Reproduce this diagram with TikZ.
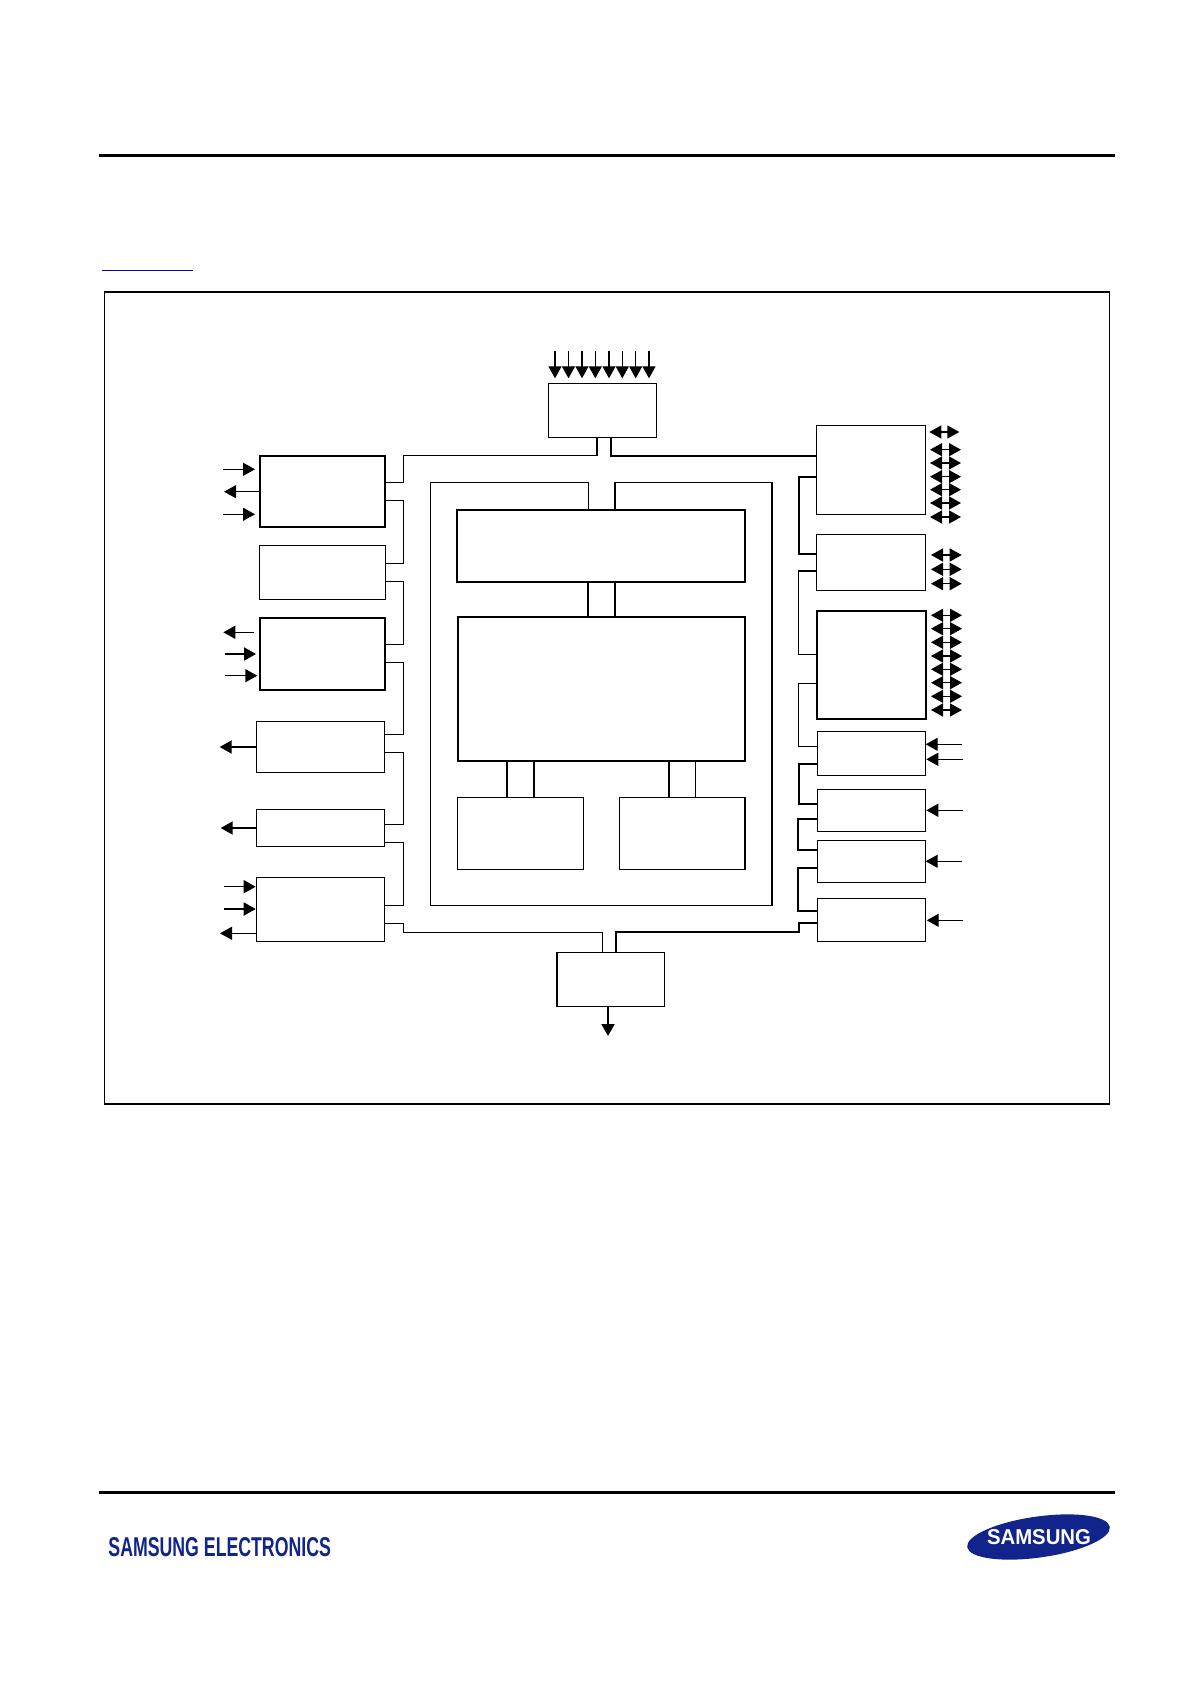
\documentclass[tikz,border=0pt]{standalone}
\usepackage{fontspec}
\usepackage{graphicx}
\setmainfont{Liberation Sans}
\usetikzlibrary{arrows.meta}
\definecolor{samblue}{RGB}{16,36,140}
\definecolor{linkblue}{RGB}{0,0,170}
\tikzset{
  x=0.5pt,y=-0.5pt,
  thinw/.style={line width=0.7pt},
  thickw/.style={line width=1pt},
  blk/.style={draw=black,fill=white,thinw,inner sep=0pt,outer sep=0pt,rectangle},
  bus/.style={thinw,line join=miter,line cap=butt},
  busk/.style={thickw,line join=miter,line cap=butt},
  sigout/.style={thinw,-{Triangle[length=6pt,width=6.5pt]}},
  sigin/.style={thinw,{Triangle[length=6pt,width=6.5pt]}-},
  sigbi/.style={thinw,{Triangle[length=6pt,width=6.5pt]}-{Triangle[length=6pt,width=6.5pt]}},
  rulel/.style={line width=1.5pt},
}
\newcommand{\blk}[6][]{\node[blk,#1,minimum width={(#5-#3)*0.5pt},minimum height={(#6-#4)*0.5pt}] (#2) at ({(#3+#5)/2},{(#4+#6)/2}) {};}
\newcounter{sg}
% \sig[style]{box.anchor}{free x}{y}{gap}
\newcommand{\sig}[5][]{\stepcounter{sg}\coordinate (s\thesg) at (#3,#4);\draw[#1,shorten <={#5*0.5pt}] (#2|-s\thesg) -- (s\thesg);}
% \sigv[style]{box.anchor}{x}{free y}{gap}
\newcommand{\sigv}[5][]{\stepcounter{sg}\coordinate (s\thesg) at (#3,#4);\draw[#1,shorten <={#5*0.5pt}] (#2-|s\thesg) -- (s\thesg);}
\begin{document}
\begin{tikzpicture}
\useasboundingbox (0,0) rectangle (1190,1684);
\fill[white] (0,0) rectangle (1190,1684);
% page furniture
\coordinate (rt1) at (99,155.5); \coordinate (rt2) at (1115,155.5);
\draw[rulel] (rt1) -- (rt2);
\coordinate (rb1) at (99,1492); \coordinate (rb2) at (1115,1492);
\draw[rulel] (rb1) -- (rb2);
\coordinate (ul1) at (102,270.5); \coordinate (ul2) at (193,270.5);
\draw[linkblue,line width=0.6pt] (ul1) -- (ul2);
\node[draw=black,line width=0.6pt,inner sep=0pt,outer sep=0pt,minimum width=502.6pt,minimum height=406pt] (frame) at (607,698) {};
% blocks
\blk[line width=0.6pt]{Top}{548.3}{383.3}{656.7}{437.3}
\blk[thickw]{A1}{259.7}{456}{385.3}{527.3}
\blk{A2}{259.7}{545.7}{385.3}{599.3}
\blk[thickw]{A3}{259.7}{617.7}{385.3}{690}
\blk{A4}{256.7}{721.7}{384.3}{772.7}
\blk{A5}{256.7}{809.3}{384.3}{846.3}
\blk{A6}{256.7}{877.7}{384.3}{941.3}
\blk{R1}{816.7}{425.7}{925.3}{514.3}
\blk{R2}{816.7}{534.7}{925.7}{590.7}
\blk[thickw]{R3}{816.7}{611}{926.3}{719}
\blk{R4}{817.3}{731.3}{925.3}{775.3}
\blk{R5}{817.3}{789.3}{925.3}{831.3}
\blk{R6}{817.3}{840.3}{925.3}{882.3}
\blk{R7}{817.3}{898.7}{925.3}{941.3}
\blk{Bot}{557}{952.3}{664.3}{1006.7}
\blk[thickw]{C1}{457.3}{509.7}{745}{581.7}
\blk[thickw]{C2}{458}{617.3}{745.3}{761}
\blk{C3}{457.3}{797.3}{583.3}{869.3}
\blk{C4}{619.3}{797.3}{745}{869.3}
% central frame (open above the first inner block)
\draw[bus] (C1.north-|588.3,0) |- (430.3,482.7) |- (772,905.3) |- (615,482.7) -- (C1.north-|615,0);
% inner connectors
\draw[busk] (C1.south-|588,0) -- (C2.north-|588,0);
\draw[busk] (C1.south-|615,0) -- (C2.north-|615,0);
\draw[busk] (C2.south-|506.7,0) -- (C3.north-|506.7,0);
\draw[busk] (C2.south-|533.7,0) -- (C3.north-|533.7,0);
\draw[busk] (C2.south-|669,0) -- (C4.north-|669,0);
\draw[bus] (C2.south-|695.3,0) -- (C4.north-|695.3,0);
% left bus
\draw[bus] (A1.east|-0,482.3) -| (403.3,455.7) -| (Top.south-|597,0);
\draw[bus] (A1.east|-0,500.3) -| (403.3,563.3) -- (A2.east|-0,563.3);
\draw[bus] (A2.east|-0,581.3) -| (403.3,644.7) -- (A3.east|-0,644.7);
\draw[bus] (A3.east|-0,662.7) -| (403.3,734.3) -- (A4.east|-0,734.3);
\draw[bus] (A4.east|-0,752.3) -| (403.3,824.3) -- (A5.east|-0,824.3);
\draw[bus] (A5.east|-0,842.3) -| (403.3,905.3) -- (A6.east|-0,905.3);
\draw[bus] (A6.east|-0,923.3) -| (403.3,932.3) -| (Bot.north-|602.3,0);
% right bus
\draw[busk] (Top.south-|610.7,0) |- (R1.west|-0,455.7);
\draw[busk] (R1.west|-0,476.7) -| (799,554.3) -- (R2.west|-0,554.3);
\draw[bus] (R2.west|-0,571) -| (798.7,654.7) -- (R3.west|-0,654.7);
\draw[bus] (R3.west|-0,683.7) -| (798.7,746.7) -- (R4.west|-0,746.7);
\draw[busk] (R4.west|-0,763.7) -| (798.7,804) -- (R5.west|-0,804);
\draw[busk] (R5.west|-0,819.3) -| (798.3,850) -- (R6.west|-0,850);
\draw[busk] (R6.west|-0,868) -| (798,911.3) -- (R7.west|-0,911.3);
\draw[busk] (Bot.north-|616,0) |- (799.3,932.3) |- (R7.west|-0,923.3);
% top inputs
\foreach \xx in {555,568.5,582,595.3,609,622.3,635.7,649}{\sigv[sigin]{Top.north}{\xx}{350.7}{5}}
% bottom output
\sigv[sigout,thickw]{Bot.south}{608}{1036}{0}
% left signals
\sig[sigin]{A1.west}{223}{469.3}{4.7}
\sig[sigout]{A1.west}{224}{491.7}{0}
\sig[sigin]{A1.west}{223}{514.3}{4.7}
\sig[sigout]{A3.west}{223.3}{632.3}{5.4}
\sig[sigin,thickw]{A3.west}{224.7}{654}{3.7}
\sig[sigin]{A3.west}{225.3}{675.7}{2.4}
\sig[sigout,thickw]{A4.west}{219.7}{747}{0}
\sig[sigout,thickw]{A5.west}{220.7}{828}{0}
\sig[sigin]{A6.west}{223.7}{886.7}{1}
\sig[sigin,thickw]{A6.west}{224.3}{909}{1}
\sig[sigout]{A6.west}{220}{933.3}{0}
% right bidirectional
\sig[sigbi]{R1.east}{959.3}{432}{4}
\foreach \yy in {449.7,463,476.7,489.7,503,517}{\sig[sigbi]{R1.east}{961}{\yy}{4.7}}
\foreach \yy in {555,569.3,583.7}{\sig[sigbi]{R2.east}{961.7}{\yy}{5.3}}
\foreach \yy in {615.3,628.7,642.3,656,669.3,682.7,696.3,710}{\sig[sigbi]{R3.east}{962}{\yy}{4.7}}
% right inputs
\sig[sigin]{R4.east}{962}{744.3}{0.4}
\sig[sigin]{R4.east}{963}{759.3}{1}
\sig[sigin]{R5.east}{963}{810.3}{1}
\sig[sigin]{R6.east}{962}{861.3}{0.4}
\sig[sigin]{R7.east}{963}{920.3}{1.4}
% footer
\node[inner sep=0pt,outer sep=0pt,text=samblue] (brand) at (219.7,1547) {\resizebox{111.2pt}{9.5pt}{\bfseries SAMSUNG ELECTRONICS}};
\fill[samblue,rotate around={8:(1038.5,1537)}] (1038.5,1537) ellipse [x radius=72,y radius=20.5];
\node[inner sep=0pt,outer sep=0pt,text=white] (logo) at (1039,1537) {\resizebox{52pt}{7.5pt}{\bfseries SAMSUNG}};
\end{tikzpicture}
\end{document}
